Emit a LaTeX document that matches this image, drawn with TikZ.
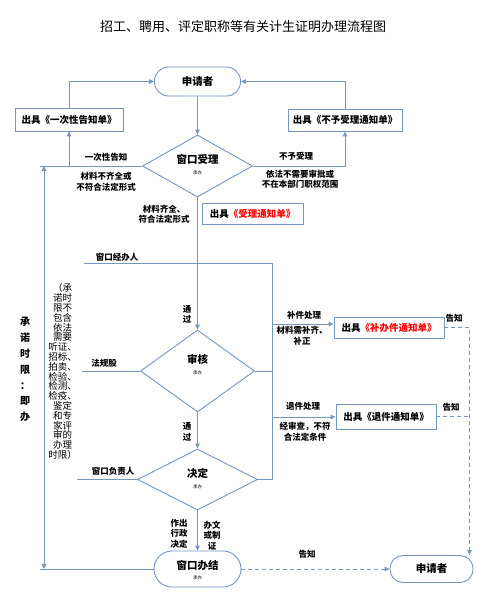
\documentclass[tikz,border=0pt]{standalone}
\usepackage{fontspec}
\setmainfont{Noto Sans CJK SC}
\usetikzlibrary{arrows.meta,shapes.geometric}
\definecolor{lc}{RGB}{118,150,192}
\begin{document}
\begin{tikzpicture}[x=1pt,y=-1pt,
  line/.style={draw=lc,line width=0.9pt},
  arr/.style={line,-{Triangle[length=5pt,width=4.5pt]}},
  darr/.style={line,{Triangle[length=5pt,width=4.5pt]}-{Triangle[length=5pt,width=4.5pt]}},
  dashline/.style={line,dash pattern=on 4pt off 3pt},
  dasharr/.style={dashline,-{Triangle[length=5pt,width=4.5pt]}},
  boxnode/.style={draw=lc,line width=0.9pt,fill=white,inner sep=0pt,font=\bfseries\fontsize{9.5}{11}\selectfont},
  pill/.style={draw=lc,line width=0.9pt,fill=white,inner sep=0pt,font=\bfseries\fontsize{10.5}{12}\selectfont},
  dia/.style={draw=lc,line width=0.9pt,diamond,inner sep=0pt,fill=white},
  lbl/.style={font=\bfseries\fontsize{8.5}{10.5}\selectfont,align=center,inner sep=0pt},
  tinytext/.style={font=\fontsize{4.5}{5}\selectfont,inner sep=0pt},
  dtitle/.style={font=\bfseries\fontsize{10.5}{12}\selectfont,inner sep=0pt}]
\useasboundingbox[fill=white] (0,0) rectangle (477,593);

% title
\node[font=\fontsize{13}{15}\selectfont] (title) at (243,27) {招工、聘用、评定职称等有关计生证明办理流程图};

% nodes
\node[pill,minimum width=86pt,minimum height=29pt,rounded corners=14pt] (app1) at (197.5,81.5) {申请者};
\node[boxnode,minimum width=108pt,minimum height=23pt] (box1) at (69,119.5) {出具《一次性告知单》};
\node[boxnode,minimum width=114pt,minimum height=22pt] (box2) at (345,120) {出具《不予受理通知单》};
\node[dia,minimum width=110pt,minimum height=62pt] (d1) at (197.5,166) {};
\node[dtitle] (d1t) at (197.5,159) {窗口受理};
\node[tinytext] (d1s) at (197.5,173) {承办};
\node[boxnode,minimum width=101pt,minimum height=21pt] (box3) at (252.5,213.5) {出具\textcolor{red}{《受理通知单》}};
\node[dia,minimum width=114pt,minimum height=82pt] (d2) at (197.5,371) {};
\node[dtitle] (d2t) at (197.5,359) {审核};
\node[tinytext] (d2s) at (197.5,373) {承办};
\node[dia,minimum width=120pt,minimum height=61pt] (d3) at (197.5,479.5) {};
\node[dtitle] (d3t) at (197.5,473) {决定};
\node[tinytext] (d3s) at (197.5,487) {承办};
\node[boxnode,minimum width=110pt,minimum height=21pt] (box4) at (389,327.5) {出具\textcolor{red}{《补办件通知单》}};
\node[boxnode,minimum width=100pt,minimum height=25pt] (box5) at (386,416.5) {出具《退件通知单》};
\node[pill,minimum width=87pt,minimum height=36pt,rounded corners=18pt] (app2) at (197.5,569) {};
\node[dtitle] (app2t) at (197.5,566) {窗口办结};
\node[tinytext] (app2s) at (197.5,578) {承办};
\node[pill,minimum width=83pt,minimum height=27pt,rounded corners=13pt] (app3) at (431.5,569) {申请者};

% connectors
\draw[arr] (app1.south) -- (d1.north);
\draw[arr] (box1.north) |- (app1.west);
\draw[arr] (box2.north) |- (app1.east);
\coordinate (L1) at (40,166);
\draw[line] (d1.west) -- (L1);
\draw[arr] (box1.south |- d1.west) -- (box1.south);
\draw[arr] (d1.east) -| (box2.south);
\draw[arr] (d1.south) -- (d2.north);
\coordinate (S1) at (84,263);
\coordinate (S2) at (272,263);
\draw[line] (S1) -- (S2) |- (d3.east);
\coordinate (F1) at (82,371);
\draw[line] (d2.west) -- (F1);
\draw[line] (d2.east) -- (d2.east -| S2);
\coordinate (B1) at (272,324);
\draw[arr] (B1) -- (B1 -| box4.west);
\coordinate (B2) at (272,417);
\draw[arr] (B2) -- (B2 -| box5.west);
\draw[arr] (d2.south) -- (d3.north);
\coordinate (F2) at (77,479.5);
\draw[line] (d3.west) -- (F2);
\draw[arr] (d3.south) -- (app2.north);
\coordinate (T1) at (44,166);
\coordinate (T2) at (44,569);
\draw[darr] (T1) -- (T2);
\coordinate (L2) at (40,569);
\draw[line] (L2) -- (app2.west);
\coordinate (R1) at (469.5,327.5);
\draw[dasharr] (box4.east) -- (R1) -- (R1 |- app3.north);
\draw[dashline] (box5.east) -- (box5.east -| R1);
\draw[dasharr] (app2.east) -- (app3.west);

% labels
\node[lbl] (l1) at (106,157) {一次性告知};
\node[lbl] (l2) at (106,182) {材料不齐全或\\不符合法定形式};
\node[lbl] (l3) at (296,156) {不予受理};
\node[lbl] (l4) at (300,179) {依法不需要审批或\\不在本部门职权范围};
\node[lbl] (l5) at (164,214.5) {材料齐全、\\符合法定形式};
\node[lbl] (l6) at (117,257) {窗口经办人};
\node[lbl] (l7) at (187,314.5) {通\\过};
\node[lbl] (l8) at (104,363) {法规股};
\node[lbl] (l9) at (304,315) {补件处理};
\node[lbl] (l10) at (302,335.5) {材料需补齐、\\补正};
\node[lbl] (l11) at (303,406) {退件处理};
\node[lbl] (l12) at (305,431.5) {经审查，不符\\合法定条件};
\node[lbl] (l13) at (454,318) {告知};
\node[lbl] (l14) at (451,407) {告知};
\node[lbl] (l15) at (187,432) {通\\过};
\node[lbl] (l16) at (113,471) {窗口负责人};
\node[lbl] (l17) at (179,533.5) {作出\\行政\\决定};
\node[lbl] (l18) at (212,535.5) {办文\\或制\\证};
\node[lbl] (l19) at (307,554) {告知};
\node[font=\bfseries\fontsize{10}{15.8}\selectfont,align=center,inner sep=0pt] (limit) at (25,369.5) {承\\诺\\时\\限\\：\\即\\办};
\node[font=\fontsize{9.5}{9.8}\selectfont,align=center,inner sep=0pt] (paren) at (62.5,371.5) {（承\\诺时\\限不\\包含\\依法\\需要\\听证、\\招标、\\拍卖、\\检验、\\检测、\\检疫、\\鉴定\\和专\\家评\\审的\\办理\\时限）};
\end{tikzpicture}
\end{document}
